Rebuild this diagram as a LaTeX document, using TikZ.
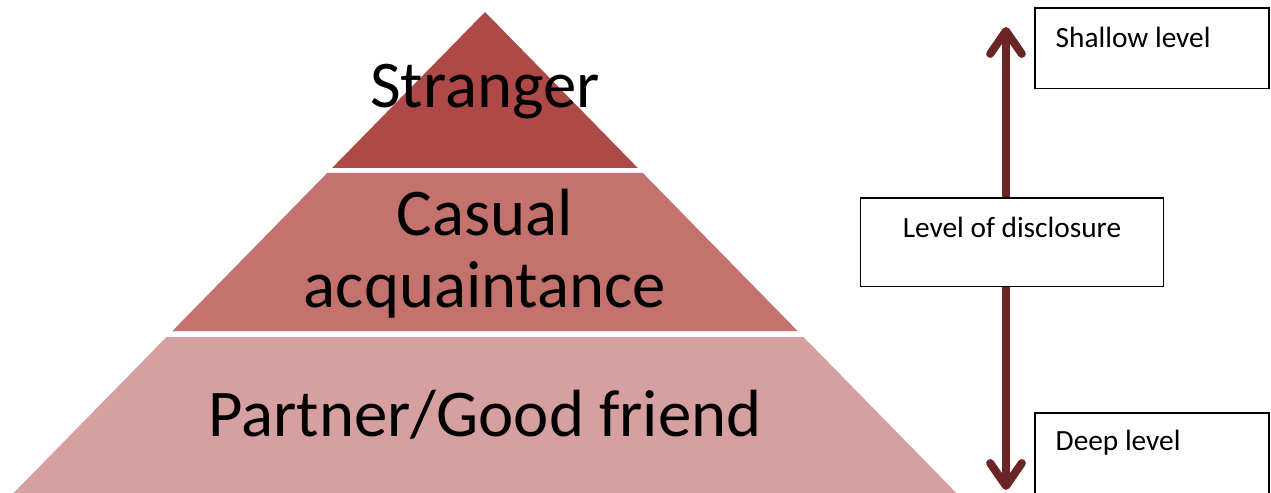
\documentclass[tikz,border=0pt]{standalone}
\usepackage{fontspec}
\setmainfont{Carlito}
\usetikzlibrary{arrows.meta}
\definecolor{tiertop}{RGB}{173,73,70}
\definecolor{tiermid}{RGB}{196,114,110}
\definecolor{tierlow}{RGB}{214,160,160}
\definecolor{arrowred}{RGB}{108,37,37}
\tikzset{
  tiertext/.style={font=\fontsize{38}{41}\selectfont, align=center, inner sep=0pt},
  lvlbox/.style={draw=black, line width=0.9pt, fill=white, inner ysep=0pt, font=\fontsize{16.7}{19}\selectfont},
  lvlarrow/.style={draw=arrowred, line width=4.6pt, -{Straight Barb[length=13pt,width=18pt,line cap=round,line join=round]}}
}

\begin{document}
\begin{tikzpicture}[x=0.02cm,y=-0.02cm]
\useasboundingbox (0,0) rectangle (1271,493);
% pyramid tiers
\fill[tiertop] (485,12) -- (637.9,168) -- (332.1,168) -- cycle; \node[tiertext,anchor=base] (stranger) at (485,108) {Stranger};
\fill[tiermid] (327.2,173) -- (642.8,173) -- (797.6,331) -- (172.4,331) -- cycle; \node[tiertext] (casual) at (485,254) {Casual\\acquaintance};
\fill[tierlow] (166.5,337) -- (803.5,337) -- (956.4,493) -- (13.6,493) -- cycle; \node[tiertext,anchor=base] (partner) at (485,436) {Partner/Good friend};
% levels
\node[lvlbox,anchor=north west,inner xsep=11.9pt,text width=109.4pt,align=flush left,text height=22.7pt,text depth=23.2pt] (shallow) at (1034,7) {Shallow level};
\node[lvlbox,anchor=north,minimum width=172.4pt,align=center,text height=22.7pt,text depth=27.8pt] (disclosure) at (1012,197) {Level of disclosure};
\node[lvlbox,anchor=north west,inner xsep=11.9pt,text width=109.4pt,align=flush left,text height=21.5pt,text depth=25pt] (deep) at (1034,412) {Deep level};
\coordinate (uptip) at (1006,27);
\coordinate (downtip) at (1006,490);
\draw[lvlarrow] (disclosure.north -| uptip) -- (uptip);
\draw[lvlarrow] (disclosure.south -| downtip) -- (downtip);
\end{tikzpicture}
\end{document}
